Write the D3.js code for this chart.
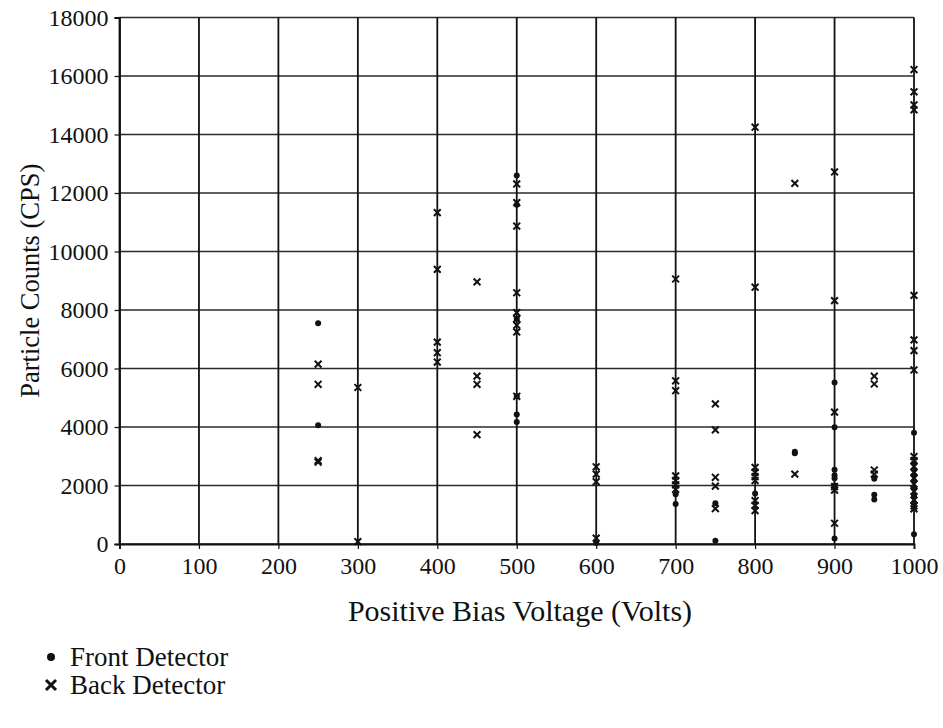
<!DOCTYPE html>
<html>
<head>
<meta charset="utf-8">
<script src="https://cdn.jsdelivr.net/npm/d3@7"></script>
<style>
  html, body { margin: 0; padding: 0; background: #fff; }
  svg { display: block; }
  svg text { font-family: "Liberation Serif", "Times New Roman", serif !important; fill: #111; }
</style>
</head>
<body>
<svg id="chart" width="943" height="728"></svg>
<script>
// Front detector count rates (CPS) by bias voltage
const frontVoltages = [250, 250, 500, 500, 500, 500, 500, 500, 600, 700, 700, 750, 750, 800, 850, 850,
  900, 900, 900, 900, 900, 900, 900, 950, 950, 950,
  1000, 1000, 1000, 1000, 1000, 1000, 1000, 1000, 1000];
const frontCounts = [7550, 4060, 12600, 11600, 7700, 5050, 4430, 4170, 30, 1700, 1370, 1390, 110, 1730, 3150, 3100,
  5520, 3990, 2540, 2350, 2250, 2000, 190, 2230, 1680, 1520,
  3800, 2750, 2550, 2350, 2150, 1900, 1650, 1400, 330];

// Back detector count rates (CPS) by bias voltage
const backVoltages = [250, 250, 250, 250, 300, 300,
  400, 400, 400, 400, 400, 450, 450, 450, 450,
  500, 500, 500, 500, 500, 500, 500, 500, 500,
  600, 600, 600, 600,
  700, 700, 700, 700, 700, 700, 700,
  750, 750, 750, 750, 750,
  800, 800, 800, 800, 800, 800, 800, 800, 800,
  850, 850,
  900, 900, 900, 900, 900, 900,
  950, 950, 950, 950,
  1000, 1000, 1000, 1000, 1000, 1000, 1000, 1000, 1000, 1000, 1000, 1000, 1000, 1000, 1000, 1000, 1000, 1000];
const backCounts = [6150, 5460, 2850, 2800, 5350, 80,
  11330, 9390, 6900, 6540, 6220, 8960, 5740, 5460, 3740,
  12310, 11670, 10870, 8590, 7910, 7700, 7480, 7250, 5050,
  2640, 2390, 2130, 200,
  9060, 5580, 5240, 2330, 2170, 2020, 1870,
  4790, 3900, 2280, 1980, 1210,
  14250, 8780, 2620, 2450, 2300, 2170, 1480, 1320, 1140,
  12330, 2390,
  12720, 8320, 4510, 1960, 1840, 710,
  5740, 5470, 2530, 2390,
  16220, 15460, 15010, 14840, 8500, 6980, 6610, 5950, 2990, 2850, 2650, 2450, 2250, 2050, 1800, 1500, 1300, 1200];

const xTicks = [0, 100, 200, 300, 400, 500, 600, 700, 800, 900, 1000];
const yTicks = [0, 2000, 4000, 6000, 8000, 10000, 12000, 14000, 16000, 18000];
const legendLabels = ["Front Detector", "Back Detector"];

const svg = d3.select("#chart");
const margin = { left: 119.5, right: 943 - 914, top: 17.5, bottom: 728 - 544 };
const W = 943, H = 728;

const x = d3.scaleLinear().domain([0, 1000]).range([margin.left, W - margin.right]);
const y = d3.scaleLinear().domain([0, 18000]).range([H - margin.bottom, margin.top]);

// grid
const grid = svg.append("g");
grid.selectAll("line.h").data(yTicks).join("line")
  .attr("x1", x(0)).attr("x2", x(1000))
  .attr("y1", d => y(d)).attr("y2", d => y(d))
  .attr("stroke", "#2a2a2a").attr("stroke-width", 1.5);
grid.selectAll("line.v").data(xTicks).join("line")
  .attr("y1", y(0)).attr("y2", y(18000))
  .attr("x1", d => x(d)).attr("x2", d => x(d))
  .attr("stroke", "#111").attr("stroke-width", 1.8);

// axes
const xAxis = svg.append("g")
  .attr("transform", `translate(0,${y(0)})`)
  .call(d3.axisBottom(x).tickValues(xTicks).tickSize(5).tickPadding(8).tickFormat(d3.format("d")));
const yAxis = svg.append("g")
  .attr("transform", `translate(${x(0)},0)`)
  .call(d3.axisLeft(y).tickValues(yTicks).tickSize(5).tickPadding(6).tickFormat(d3.format("d")));
[xAxis, yAxis].forEach(a => {
  a.attr("font-family", null);
  a.select(".domain").attr("stroke", "#111").attr("stroke-width", 1.8);
  a.selectAll(".tick line").attr("stroke", "#111").attr("stroke-width", 1.2);
  a.selectAll(".tick text").attr("font-size", 24).attr("fill", "#111");
});

// axis titles
svg.append("text")
  .attr("x", 520).attr("y", 621)
  .attr("text-anchor", "middle").attr("font-size", 30)
  .text("Positive Bias Voltage (Volts)");
svg.append("text")
  .attr("transform", `translate(39,${(y(0) + y(18000)) / 2}) rotate(-90)`)
  .attr("text-anchor", "middle").attr("font-size", 26.5)
  .text("Particle Counts (CPS)");

// markers
const xMark = (g, cx, cy, s, w) => {
  g.append("path")
    .attr("d", `M${cx - s},${cy - s}L${cx + s},${cy + s}M${cx - s},${cy + s}L${cx + s},${cy - s}`)
    .attr("stroke", "#111").attr("stroke-width", w).attr("fill", "none");
};

const back = svg.append("g");
backVoltages.forEach((v, i) => xMark(back, x(v), y(backCounts[i]), 3.4, 2));

svg.append("g").selectAll("circle").data(frontVoltages).join("circle")
  .attr("cx", d => x(d)).attr("cy", (d, i) => y(frontCounts[i]))
  .attr("r", 3).attr("fill", "#111");

// legend
const leg = svg.append("g");
leg.append("circle").attr("cx", 51).attr("cy", 657).attr("r", 4).attr("fill", "#111");
xMark(leg, 51, 685, 5, 3);
leg.selectAll("text").data(legendLabels).join("text")
  .attr("x", 70).attr("y", (d, i) => 666 + i * 28)
  .attr("font-size", 27)
  .text(d => d);
</script>
</body>
</html>
